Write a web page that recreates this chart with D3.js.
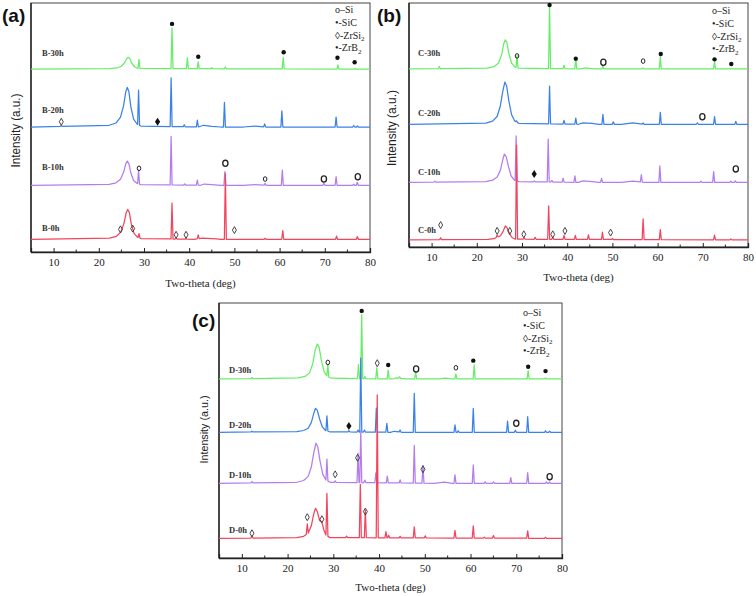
<!DOCTYPE html>
<html><head><meta charset="utf-8">
<script src="https://cdn.jsdelivr.net/npm/d3@7"></script>
<style>body{margin:0;background:#fff}svg{display:block}</style>
</head><body>
<svg id="chart" width="756" height="596"></svg>
<script>
// ---------------- DATA ----------------
const xTicks = [10, 20, 30, 40, 50, 60, 70, 80];
const xMinorTicks = [15, 25, 35, 45, 55, 65, 75];
const panelLetters = ["(a)", "(b)", "(c)"];
const seriesNamesA = ["B-0h", "B-10h", "B-20h", "B-30h"];
const seriesNamesB = ["C-0h", "C-10h", "C-20h", "C-30h"];
const seriesNamesC = ["D-0h", "D-10h", "D-20h", "D-30h"];
const seriesColors = ["#f2445e", "#b47ded", "#3b82e8", "#66ee66"];
const legendLabels = [["o–Si", ""], ["•-SiC", ""], ["◊-ZrSi", "2"], ["•-ZrB", "2"]];

// vertical offsets of each pattern (a.u.)
const offsetsA = [5.1, 26.8, 50.2, 73.4];
const offsetsB = [2.9, 26.5, 50.3, 73.0];
const offsetsC = [7.7, 29.3, 49.3, 70.2];

// broad background humps [2θ, intensity]
const humpsA = [
  [[22.4,0.5],[23.9,1.2],[24.9,3],[25.6,6.6],[26.05,10.6],[26.4,12],[26.75,10.8],[27.2,6],[27.8,2.4],[28.6,0.8],[29.4,0.3],[41,0],[43,0.5],[46,0.2],[47,0]],
  [[22.3,0.4],[23.8,1],[24.8,2.4],[25.5,5.3],[25.95,8.5],[26.3,9.7],[26.65,8.7],[27.1,4.9],[27.7,1.9],[28.5,0.7],[29.3,0.25],[42.5,0],[43.3,0.5],[45,0.3],[47,0],[52,0],[54.5,0.3],[57,0]],
  [[22.3,0.7],[23.8,1.6],[24.8,4],[25.5,8.7],[25.95,14],[26.3,15.9],[26.65,14.3],[27.1,8],[27.7,3.2],[28.5,1.1],[29.3,0.4],[42,0],[43.2,0.7],[45,0.3],[47,0],[52,0],[54.5,0.4],[57,0]],
  [[22.5,0.2],[24,0.5],[25,1.2],[25.7,2.6],[26.15,4.2],[26.5,4.8],[26.85,4.3],[27.3,2.4],[27.9,1],[28.7,0.3]]
];
const humpsB = [
  [[22.5,0.2],[23.8,0.5],[24.5,1.2],[25.2,1.6],[25.8,3.4],[26.3,5.7],[26.7,5],[27.2,2.6],[27.8,1],[28.5,0.3]],
  [[22,0.3],[23.5,0.9],[24.5,2.2],[25.2,4.8],[25.7,8.9],[26.1,11.6],[26.5,10.5],[27,6.5],[27.6,2.6],[28.3,0.9],[29.3,0.3],[42.5,0],[43.5,0.6],[45.5,0.3],[47,0],[52,0],[54.5,0.5],[57,0]],
  [[22,0.5],[23.5,1.3],[24.5,3.2],[25.2,7.5],[25.75,13.5],[26.2,17.3],[26.6,15.8],[27.1,9.5],[27.7,3.9],[28.4,1.3],[29.3,0.4],[42.5,0],[43.5,0.6],[45.5,0.4],[47,0],[52,0],[54.5,0.6],[57,0]],
  [[22.3,0.3],[23.8,0.9],[24.8,2.4],[25.5,5.8],[25.95,10.3],[26.3,11.9],[26.65,10.9],[27.1,6.2],[27.7,2.4],[28.4,0.8],[29.2,0.3],[43,0],[44,0.4],[46,0]]
];
const humpsC = [
  [[22,0.3],[23.5,0.8],[24.5,2],[25.2,5],[25.7,9.5],[26.1,11.8],[26.5,10.5],[27,7],[27.5,6.3],[27.9,3.5],[28.4,1.2],[29.3,0.3]],
  [[22,0.4],[23.5,1.1],[24.5,2.7],[25.2,6.5],[25.75,12.2],[26.2,15.7],[26.6,14.3],[27.1,8.6],[27.7,3.5],[28.4,1.2],[29.3,0.4],[52,0],[54.3,0.5],[56,0]],
  [[22,0.3],[23.5,0.7],[24.5,1.6],[25.2,3.9],[25.7,7.3],[26.1,9.4],[26.5,8.6],[27,5.2],[27.6,2.1],[28.3,0.7],[29.2,0.2],[42.5,0],[43.3,0.4],[45,0]],
  [[22.3,0.4],[23.8,1],[24.8,2.4],[25.5,6],[26.05,11.5],[26.5,13.7],[26.9,12.4],[27.4,7.2],[28,2.8],[28.7,0.9],[29.6,0.3],[43,0],[43.8,0.4],[46,0],[53,0],[54.5,0.3],[56,0]]
];

// sharp diffraction peaks [2θ, height above background]
const peaksA = [
  [[28.9,1.7],[36.2,14.4],[37.1,0.3],[39.3,0.3],[42.0,1.5],[48.0,26.4],[56.8,0.4],[60.7,3.5],[72.6,1.3],[77.2,1.1]],
  [[28.8,5.5],[36.0,19.5],[39.0,0.5],[41.8,2.1],[47.9,5.5],[56.8,0.8],[60.6,6.1],[69.8,0.8],[72.5,3.5],[76.4,0.4],[77.2,1.2]],
  [[11.7,0.3],[28.8,14],[36.0,19.5],[38.9,0.8],[41.8,2.8],[47.8,9.9],[56.7,1.2],[60.5,6.5],[72.5,4],[76.4,0.6],[77.2,0.4]],
  [[28.9,3.7],[36.2,16.4],[39.6,4.4],[42.0,2.7],[45.0,0.4],[48.0,0.7],[60.8,4.7],[72.9,1.7],[76.7,0.3]]
];
const peaksB = [
  [[12.0,0.8],[24.5,0.8],[28.8,38.5],[30.5,0.5],[32.9,0.8],[35.9,13.7],[36.8,0.8],[39.3,1.6],[41.8,1.6],[44.7,1.9],[47.8,3],[50.0,0.4],[56.8,8.5],[60.6,4.1],[72.6,1.9],[76.2,0.4]],
  [[10.7,0.4],[28.7,18.4],[32.7,0.3],[35.8,17.6],[36.6,0.7],[39.1,1.6],[41.7,2.6],[47.6,1.6],[56.4,3],[60.5,6.7],[69.6,0.5],[72.4,4.4],[76.2,0.5],[77.2,0.6]],
  [[28.8,0.5],[36.1,15.4],[39.3,1.5],[41.9,2.5],[47.9,4.1],[50.2,1],[56.8,0.5],[60.6,4.9],[68.8,0.6],[72.6,3.1],[77.3,1.2]],
  [[11.7,0.9],[28.9,5],[36.1,25.8],[39.3,1.4],[41.9,4.4],[47.9,1.2],[56.7,0.4],[60.6,5],[72.6,3],[76.3,0.3]]
];
const peaksC = [
  [[12.2,0.8],[24.3,3.9],[28.6,16.6],[32.9,0.6],[35.9,20.9],[37.0,10.8],[39.6,56],[41.5,2.4],[42.1,1],[44.6,0.6],[47.7,4.3],[50.1,0.8],[56.6,3],[60.6,4.8],[63,0.4],[65.0,1],[72.5,2.9],[76.4,0.4]],
  [[12.2,0.5],[28.6,8.5],[30.4,0.6],[35.4,11.5],[36.0,20.3],[36.9,1],[39.3,3.9],[41.8,2.6],[44.6,1.2],[47.7,14.8],[49.6,6.9],[56.6,3.3],[60.6,7.2],[63.2,0.6],[65,0.5],[68.8,2.2],[72.5,4.2],[76.6,0.6],[77.3,0.5]],
  [[12.2,0.3],[28.6,5.9],[33.4,0.5],[35.4,0.8],[36.0,29],[36.8,0.8],[39.4,9.4],[41.7,3.5],[44.6,0.8],[47.7,15.3],[56.6,2.9],[57.3,0.6],[60.6,9.4],[68.1,4.4],[69.8,0.8],[72.5,6.1],[76.4,0.6],[77.3,0.4]],
  [[12.2,0.4],[28.8,4.8],[35.5,5.5],[36.2,25.1],[36.9,0.8],[39.5,4.4],[42.0,3.5],[44.5,0.6],[48.0,2.8],[56.8,2],[60.8,5.5],[72.6,3.3],[76.4,0.4]]
];

// phase markers [2θ, intensity level, phase]
const markersA = [
  [36.2,91.6,"SiC"],[42.0,78.4,"SiC"],[60.9,80.2,"SiC"],[72.8,78.0,"SiC"],[76.6,76.2,"SiC"],
  [11.7,52.3,"ZrSi2"],[33.0,52.3,"ZrB2"],
  [28.9,33.6,"Si"],[48.0,35.6,"SiL"],[56.8,29.3,"Si"],[69.8,29.3,"SiL"],[77.3,30.2,"SiL"],
  [24.8,9.1,"ZrSi2"],[27.5,9.4,"ZrSi2"],[37.1,6.9,"ZrSi2"],[39.3,6.9,"ZrSi2"],[50.0,8.8,"ZrSi2"]
];
const markersB = [
  [28.9,78.3,"Si"],[36.1,99.2,"SiC"],[41.9,77.2,"SiC"],[48.0,75.7,"SiL"],[56.8,76.2,"Si"],[60.7,79.1,"SiC"],[72.6,76.9,"SiC"],[76.3,75.0,"SiC"],
  [69.9,53.4,"SiL"],
  [32.7,29.9,"ZrB2"],[77.3,32.0,"SiL"],
  [12.0,9.0,"ZrSi2"],[24.5,6.6,"ZrSi2"],[27.3,6.6,"ZrSi2"],[30.4,5.2,"ZrSi2"],[36.8,5.2,"ZrSi2"],[39.5,6.6,"ZrSi2"],[49.6,5.9,"ZrSi2"]
];
const markersC = [
  [28.8,76.7,"Si"],[36.2,96.9,"SiC"],[39.6,76.4,"ZrSi2"],[42.0,75.7,"SiC"],[48.1,74.1,"SiL"],[56.8,74.6,"Si"],[60.6,77.4,"SiC"],[72.6,75.0,"SiC"],[76.4,73.3,"SiC"],
  [33.4,51.8,"ZrB2"],[70.0,52.8,"SiL"],
  [30.4,32.8,"ZrSi2"],[35.3,39.3,"ZrSi2"],[49.6,34.8,"ZrSi2"],[77.3,31.9,"SiL"],
  [12.2,9.7,"ZrSi2"],[24.3,16.0,"ZrSi2"],[27.5,15.2,"ZrSi2"],[37.0,18.2,"ZrSi2"]
];

// ---------------- LAYOUT ----------------
const panels = [
  {names: seriesNamesA, offsets: offsetsA, humps: humpsA, peaks: peaksA, markers: markersA,
   x0: 31, x1: 370, y0: 3, y1: 252, letter: [2, 22], labelX: 42, labelY: [231, 170, 113, 56],
   tickY: 266, titleY: 287, yLabelX: 16, yLen: 74, legend: [335, 13]},
  {names: seriesNamesB, offsets: offsetsB, humps: humpsB, peaks: peaksB, markers: markersB,
   x0: 409, x1: 748, y0: 3, y1: 247, letter: [377, 22], labelX: 418, labelY: [233, 175, 116, 56],
   tickY: 261, titleY: 281, yLabelX: 392, yLen: 76, legend: [712, 14]},
  {names: seriesNamesC, offsets: offsetsC, humps: humpsC, peaks: peaksC, markers: markersC,
   x0: 219, x1: 562, y0: 303, y1: 558, letter: [192, 327], labelX: 229, labelY: [533, 478, 428, 373],
   tickY: 572, titleY: 591, yLabelX: 205, yLen: 68, legend: [523, 316]}
];

const svg = d3.select("#chart");
const serif = "'Liberation Serif','Times New Roman',serif";
const sans = "'Liberation Sans',Arial,sans-serif";
const PEAK_HW = 0.22;

function buildCurve(hump, peaks) {
  const bg = [[5, 0], ...hump, [80, 0]].sort((a, b) => a[0] - b[0]);
  const bgAt = x => {
    for (let i = 1; i < bg.length; i++) {
      if (x <= bg[i][0]) {
        const [xa, ya] = bg[i - 1], [xb, yb] = bg[i];
        return ya + (yb - ya) * (x - xa) / (xb - xa);
      }
    }
    return 0;
  };
  const inPeak = x => peaks.some(p => Math.abs(x - p[0]) < PEAK_HW);
  const pts = bg.filter(p => !inPeak(p[0]));
  peaks.forEach(([c, h]) => {
    pts.push([c - PEAK_HW, bgAt(c - PEAK_HW)]);
    pts.push([c, bgAt(c) + h]);
    pts.push([c + PEAK_HW, bgAt(c + PEAK_HW)]);
  });
  return pts.sort((a, b) => a[0] - b[0]);
}

panels.forEach((P, pi) => {
  const g = svg.append("g");
  const x = d3.scaleLinear().domain([5, 80]).range([P.x0, P.x1]);
  const y = d3.scaleLinear().domain([0, 100]).range([P.y1, P.y0]);

  // frame
  g.append("rect").attr("x", P.x0).attr("y", P.y0).attr("width", P.x1 - P.x0).attr("height", P.y1 - P.y0)
    .attr("fill", "none").attr("stroke", "#444").attr("stroke-width", 1);
  g.append("line").attr("x1", P.x0).attr("x2", P.x0).attr("y1", P.y0).attr("y2", P.y1)
    .attr("stroke", "#222").attr("stroke-width", 1.4);

  // x axis (ticks inward)
  const axis = d3.axisBottom(x).tickValues(xTicks).tickSize(-4).tickPadding(8).tickFormat(d3.format("d"));
  const ax = g.append("g").attr("transform", `translate(0,${P.y1})`).call(axis);
  ax.select(".domain").attr("stroke", "#222").attr("stroke-width", 1.3);
  ax.selectAll(".tick line").attr("stroke", "#222");
  ax.selectAll(".tick text").attr("font-family", serif).attr("font-size", 11).attr("fill", "#222")
    .attr("y", null).attr("dy", null).attr("transform", `translate(0,${P.tickY - P.y1})`)
    .attr("dominant-baseline", "auto");
  g.selectAll(".minor").data(xMinorTicks).join("line")
    .attr("x1", d => x(d)).attr("x2", d => x(d)).attr("y1", P.y1).attr("y2", P.y1 - 2.5)
    .attr("stroke", "#222");

  g.append("text").attr("x", (P.x0 + P.x1) / 2).attr("y", P.titleY).attr("text-anchor", "middle")
    .attr("font-family", serif).attr("font-size", 11).attr("fill", "#222").text("Two-theta (deg)");

  const yc = (P.y0 + P.y1) / 2 + (pi === 2 ? -1 : 3);
  g.append("text").attr("transform", `translate(${P.yLabelX},${yc}) rotate(-90)`)
    .attr("text-anchor", "middle").attr("dominant-baseline", "middle")
    .attr("font-family", sans).attr("font-size", pi === 2 ? 11 : 13.5).attr("fill", "#222")
    .attr("textLength", P.yLen).attr("lengthAdjust", "spacingAndGlyphs")
    .text("Intensity (a.u.)");

  g.append("text").attr("x", P.letter[0]).attr("y", P.letter[1])
    .attr("font-family", sans).attr("font-weight", "bold").attr("font-size", 19).attr("fill", "#111")
    .text(panelLetters[pi]);

  // curves (top series first so lower ones draw over)
  const line = d3.line().x(d => x(d[0])).y(d => y(d[1]));
  [3, 2, 1, 0].forEach(si => {
    const pts = buildCurve(P.humps[si], P.peaks[si]).map(d => [d[0], d[1] + P.offsets[si]]);
    g.append("path").datum(pts).attr("d", line).attr("fill", "none")
      .attr("stroke", seriesColors[si]).attr("stroke-width", 1.25).attr("stroke-linejoin", "round");
    g.append("text").attr("x", P.labelX).attr("y", P.labelY[si])
      .attr("font-family", serif).attr("font-size", 8.5).attr("font-weight", "bold").attr("fill", "#333")
      .text(P.names[si]);
  });

  // markers
  P.markers.forEach(([t, v, ph]) => {
    const cx = x(t), cy = y(v);
    if (ph === "SiC") {
      g.append("circle").attr("cx", cx).attr("cy", cy).attr("r", 2.2).attr("fill", "#111");
    } else if (ph === "Si" || ph === "SiL") {
      const big = ph === "SiL";
      g.append("ellipse").attr("cx", cx).attr("cy", cy).attr("rx", big ? 2.6 : 1.8).attr("ry", big ? 3.1 : 2.3)
        .attr("fill", "none").attr("stroke", "#222").attr("stroke-width", big ? 1.3 : 1);
    } else if (ph === "ZrSi2") {
      g.append("path").attr("d", `M${cx},${cy - 3.5}L${cx + 2},${cy}L${cx},${cy + 3.5}L${cx - 2},${cy}Z`)
        .attr("fill", "none").attr("stroke", "#333").attr("stroke-width", 0.9);
    } else {
      g.append("path").attr("d", `M${cx},${cy - 4}L${cx + 2.6},${cy}L${cx},${cy + 4}L${cx - 2.6},${cy}Z`)
        .attr("fill", "#111");
    }
  });

  // legend
  legendLabels.forEach(([main, sub], i) => {
    const t = g.append("text").attr("x", P.legend[0]).attr("y", P.legend[1] + i * 12.8)
      .attr("font-family", serif).attr("font-size", 10).attr("fill", "#222").text(main);
    if (sub) t.append("tspan").attr("font-size", 7).attr("dy", 2.5).text(sub);
  });
});
</script>
</body></html>
